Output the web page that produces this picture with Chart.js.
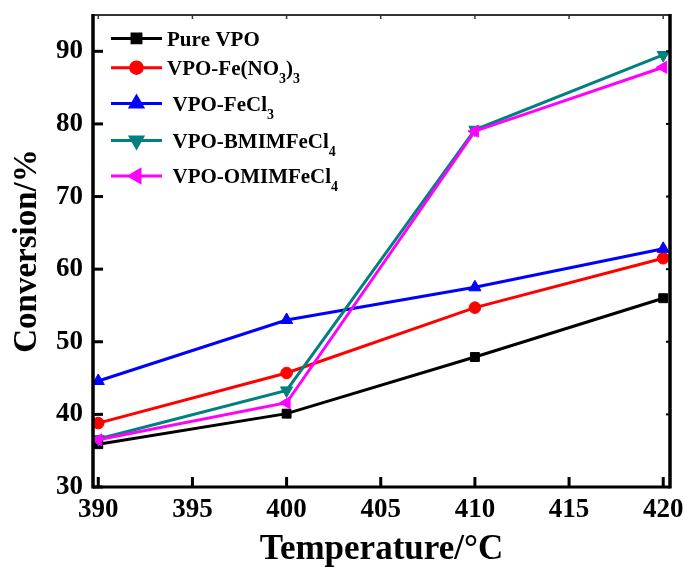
<!DOCTYPE html>
<html>
<head>
<meta charset="utf-8">
<script src="https://cdn.jsdelivr.net/npm/chart.js@4.4.1/dist/chart.umd.min.js"></script>
<style>
  html, body { margin: 0; padding: 0; background: #fff; }
  canvas { display: block; }
</style>
</head>
<body>
<canvas id="chart" width="687" height="567"></canvas>
<script>
// temperatures (°C) and conversion (%)
var temps = [390, 400, 410, 420];
var seriesNames = ['Pure VPO', 'VPO-Fe(NO\u2083)\u2083', 'VPO-FeCl\u2083', 'VPO-BMIMFeCl\u2084', 'VPO-OMIMFeCl\u2084'];
var pureVPO   = [35.9, 40.1, 47.9, 56.0];
var feNO3     = [38.8, 45.7, 54.7, 61.5];
var feCl3     = [44.6, 53.0, 57.5, 62.8];
var bmimFeCl4 = [36.6, 43.3, 79.2, 89.5];
var omimFeCl4 = [36.5, 41.6, 79.0, 87.8];
var xTicks = [390, 395, 400, 405, 410, 415, 420];
var yTicks = [30, 40, 50, 60, 70, 80, 90];

var serif = '"Liberation Serif", "Times New Roman", serif';
var colors = ['#000000', '#ff0000', '#0000ff', '#008080', '#ff00ff'];
var styles = ['rect', 'circle', 'triangle', 'triangle', 'triangle'];
var rotations = [0, 0, 0, 180, -90];
var radii = [6.3, 5.8, 7, 7, 7];
var allSeries = [pureVPO, feNO3, feCl3, bmimFeCl4, omimFeCl4];

var datasets = allSeries.map(function(vals, i) {
    return {
        label: seriesNames[i],
        data: temps.map(function(t, k) { return {x: t, y: vals[k]}; }),
        borderColor: colors[i],
        backgroundColor: colors[i],
        borderWidth: 3,
        pointStyle: styles[i],
        pointRotation: rotations[i],
        pointRadius: radii[i],
        pointBorderWidth: 1,
        pointBackgroundColor: colors[i],
        pointBorderColor: colors[i],
        tension: 0,
        order: 5 - i
    };
});

// frame + inward ticks on all four sides
var framePlugin = {
    id: 'frame',
    afterDatasetsDraw: function(chart) {
        var ctx = chart.ctx, a = chart.chartArea;
        var xs = chart.scales.x, ys = chart.scales.y;
        ctx.save();
        ctx.lineCap = 'butt';
        // top (thin grey)
        ctx.strokeStyle = '#333';
        ctx.lineWidth = 2;
        ctx.beginPath(); ctx.moveTo(a.left, a.top); ctx.lineTo(a.right, a.top); ctx.stroke();
        xTicks.forEach(function(v) {
            var px = xs.getPixelForValue(v);
            ctx.lineWidth = 1.5;
            ctx.beginPath(); ctx.moveTo(px, a.top); ctx.lineTo(px, a.top + 4); ctx.stroke();
        });
        ctx.strokeStyle = '#000';
        // left, bottom, right
        ctx.lineWidth = 3.5;
        ctx.beginPath(); ctx.moveTo(a.left, a.top - 1); ctx.lineTo(a.left, a.bottom + 1.5); ctx.stroke();
        ctx.beginPath(); ctx.moveTo(a.right, a.top - 1); ctx.lineTo(a.right, a.bottom + 1.5); ctx.stroke();
        ctx.lineWidth = 3;
        ctx.beginPath(); ctx.moveTo(a.left, a.bottom); ctx.lineTo(a.right, a.bottom); ctx.stroke();
        xTicks.forEach(function(v) {
            var px = xs.getPixelForValue(v);
            ctx.lineWidth = 3;
            ctx.beginPath(); ctx.moveTo(px, a.bottom); ctx.lineTo(px, a.bottom - 10); ctx.stroke();
        });
        yTicks.forEach(function(v) {
            var py = ys.getPixelForValue(v);
            ctx.lineWidth = 3;
            ctx.beginPath(); ctx.moveTo(a.left, py); ctx.lineTo(a.left + 10, py); ctx.stroke();
            ctx.lineWidth = 2;
            ctx.beginPath(); ctx.moveTo(a.right, py); ctx.lineTo(a.right - 4, py); ctx.stroke();
        });
        ctx.restore();
    }
};

// legend with real subscripts
var subDigits = '\u2080\u2081\u2082\u2083\u2084\u2085\u2086\u2087\u2088\u2089';
var legendBaselines = [45.7, 75, 110.7, 147.7, 183.3];
var legendTextX = [167, 167, 172.5, 172.5, 172.5];
var legendPlugin = {
    id: 'inlegend',
    afterDraw: function(chart) {
        var ctx = chart.ctx;
        ctx.save();
        chart.data.datasets.forEach(function(ds, i) {
            var base = legendBaselines[i];
            var ly = base - 7.3;
            ctx.strokeStyle = ds.borderColor;
            ctx.lineWidth = 3;
            ctx.beginPath(); ctx.moveTo(111, ly); ctx.lineTo(162, ly); ctx.stroke();
            ctx.fillStyle = ds.backgroundColor;
            Chart.helpers.drawPoint(ctx, {
                pointStyle: ds.pointStyle, rotation: ds.pointRotation,
                radius: ds.pointRadius, borderWidth: 1
            }, 136.5, ly);
            var x = legendTextX[i];
            ctx.fillStyle = '#000';
            ctx.textBaseline = 'alphabetic';
            ctx.textAlign = 'left';
            var chars = Array.from(ds.label);
            chars.forEach(function(c) {
                var k = subDigits.indexOf(c);
                if (k >= 0) {
                    ctx.font = 'bold 14px ' + serif;
                    ctx.fillText(String(k), x, base + 8);
                    x += ctx.measureText(String(k)).width;
                } else {
                    ctx.font = 'bold 21px ' + serif;
                    ctx.fillText(c, x, base);
                    x += ctx.measureText(c).width;
                }
            });
        });
        ctx.restore();
    }
};

window.onload = function() {
    var ctx = document.getElementById('chart').getContext('2d');
    window.theChart = new Chart(ctx, {
        type: 'line',
        data: { datasets: datasets },
        plugins: [framePlugin, legendPlugin],
        options: {
            responsive: false,
            devicePixelRatio: 1,
            animation: false,
            layout: { padding: { top: 15, right: 17, left: 0, bottom: 0 } },
            plugins: { legend: { display: false }, tooltip: { enabled: false } },
            scales: {
                x: {
                    type: 'linear',
                    min: 389.72,
                    max: 420.36,
                    afterBuildTicks: function(s) { s.ticks = xTicks.map(function(v) { return {value: v}; }); },
                    afterFit: function(s) {
                        s.height = 80;
                        s.paddingLeft = 0; s.paddingRight = 0;
                    },
                    grid: { display: false, drawTicks: false },
                    border: { display: false },
                    ticks: {
                        padding: 7,
                        color: '#000',
                        maxRotation: 0,
                        font: { family: serif, size: 27, weight: 'bold' }
                    },
                    title: {
                        display: true,
                        text: 'Temperature/\u00b0C',
                        color: '#000',
                        padding: { top: 0, bottom: 0 },
                        font: { family: serif, size: 35, weight: 'bold', lineHeight: 1 }
                    }
                },
                y: {
                    min: 30,
                    max: 95,
                    afterBuildTicks: function(s) { s.ticks = yTicks.map(function(v) { return {value: v}; }); },
                    afterFit: function(s) {
                        s.width = 93;
                        s.paddingTop = 0; s.paddingBottom = 0;
                    },
                    grid: { display: false, drawTicks: false },
                    border: { display: false },
                    ticks: {
                        padding: 10,
                        color: '#000',
                        font: { family: serif, size: 27, weight: 'bold' }
                    },
                    title: {
                        display: true,
                        text: 'Conversion/%',
                        color: '#000',
                        padding: { top: 10.5, bottom: 0 },
                        font: { family: serif, size: 33, weight: 'bold', lineHeight: 1 }
                    }
                }
            }
        }
    });
};
</script>
</body>
</html>
